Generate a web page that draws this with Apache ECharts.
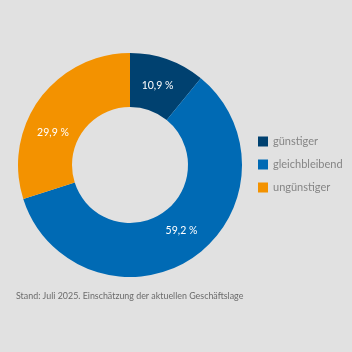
<!DOCTYPE html>
<html>
<head>
<meta charset="utf-8">
<script src="https://cdn.jsdelivr.net/npm/echarts@6/dist/echarts.min.js"></script>
<style>
    html, body { margin: 0; padding: 0; background: #e1e1e1; }
    #main { width: 352px; height: 352px; }
</style>
</head>
<body>
<div id="main"></div>
<script>
var categories = ['günstiger', 'gleichbleibend', 'ungünstiger'];
var values = [10.9, 59.2, 29.9];
var colors = ['#004170', '#006ab4', '#f39200'];
var note = 'Stand: Juli 2025. Einschätzung der aktuellen Geschäftslage';

var myChart = echarts.init(document.querySelector('#main'));

// labels in the reference are not exactly at the mid angle
var labelShift = [[-2, 4], [2, -7], [-6, 20]];

var data = categories.map(function (name, i) {
    return { name: name, value: values[i], itemStyle: { color: colors[i] } };
});

var option = {
    backgroundColor: '#e1e1e1',
    animation: false,
    graphic: [
        {
            type: 'text',
            left: 16,
            top: 292,
            style: {
                text: note,
                fill: '#6b6b6b',
                font: '8.9px Lato',
            },
        },
    ],
    legend: {
        orient: 'vertical',
        left: 253,
        top: 131,
        itemWidth: 10,
        itemHeight: 10,
        itemGap: 12,
        icon: 'rect',
        textStyle: {
            color: '#858585',
            fontSize: 11,
            fontFamily: 'Lato',
        },
        data: categories,
    },
    series: [
        {
            type: 'pie',
            center: [130, 165],
            radius: [58, 112],
            startAngle: 90,
            clockwise: true,
            data: data,
            label: {
                show: true,
                position: 'inside',
                color: '#ffffff',
                fontSize: 10.5,
                fontFamily: 'Lato',
                formatter: function (p) {
                    return p.value.toFixed(1).replace('.', ',') + ' %';
                },
            },
            labelLayout: function (params) {
                var s = labelShift[params.dataIndex];
                return { dx: s[0], dy: s[1] };
            },
            labelLine: { show: false },
            emphasis: { disabled: true },
        },
    ],
};

myChart.setOption(option);
</script>
</body>
</html>
